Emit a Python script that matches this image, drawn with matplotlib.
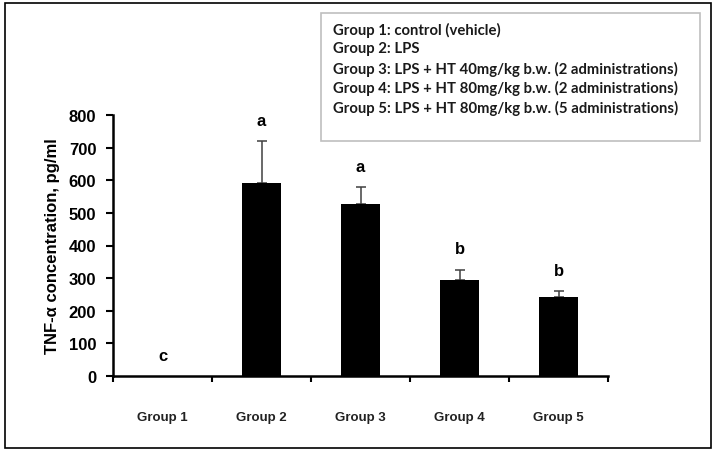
import numpy as np
import matplotlib.pyplot as plt
from matplotlib.patches import Rectangle

# data
groups = ['Group 1', 'Group 2', 'Group 3', 'Group 4', 'Group 5']
tnf_mean = [0, 592, 527, 295, 241]
tnf_err = [0, 128, 52, 31, 20]
letters = ['c', 'a', 'a', 'b', 'b']
legend_lines = [
    'Group 1: control (vehicle)',
    'Group 2: LPS',
    'Group 3: LPS + HT 40mg/kg b.w. (2 administrations)',
    'Group 4: LPS + HT 80mg/kg b.w. (2 administrations)',
    'Group 5: LPS + HT 80mg/kg b.w. (5 administrations)',
]

plt.rcParams['font.family'] = ['Liberation Sans', 'DejaVu Sans']

fig = plt.figure(figsize=(7.18, 4.56), dpi=100)
fig.patches.append(Rectangle((5 / 718, 1 - 449 / 456), 706 / 718, 445 / 456,
                             transform=fig.transFigure, fill=False,
                             edgecolor='black', linewidth=1.2))

ax = fig.add_axes([113 / 718, 1 - 377 / 456, 495 / 718, 261 / 456])
x = np.arange(1, len(groups) + 1)
ax.bar(x, tnf_mean, width=0.4, color='black', zorder=2)
ax.errorbar(x[1:], tnf_mean[1:], yerr=[np.zeros(len(x) - 1), tnf_err[1:]],
            fmt='none', ecolor='#404040', elinewidth=1.1, capsize=3.5,
            capthick=1.1, zorder=1)

for xi, m, e, t in zip(x, tnf_mean, tnf_err, letters):
    ax.annotate(t, (xi, m + e), xytext=(0, 15), textcoords='offset points',
                ha='center', va='center', fontsize=12, fontweight='bold')

ax.set_xlim(0.5, 5.5)
ax.set_ylim(0, 800)
ax.set_yticks(range(0, 801, 100))
ax.set_xticks(np.arange(0.5, 5.6, 1))
ax.set_xticklabels([])
ax.set_xticks(x, minor=True)
ax.set_xticklabels(groups, minor=True, fontsize=9.5, fontweight='bold',
                   color='#222222')
ax.tick_params(axis='x', which='major', direction='out', length=4, width=1.5)
ax.tick_params(axis='x', which='minor', length=0, pad=25)
ax.tick_params(axis='y', direction='out', length=5, width=1.5, pad=7,
               labelsize=12)
for lab in ax.get_yticklabels():
    lab.set_fontweight('bold')
for s in ['top', 'right']:
    ax.spines[s].set_visible(False)
for s in ['left', 'bottom']:
    ax.spines[s].set_linewidth(1.8)
ax.set_ylabel('TNF-α concentration, pg/ml', fontsize=12, fontweight='bold',
              labelpad=6)

# legend box
fig.patches.append(Rectangle((321 / 718, 1 - 142 / 456), 379 / 718, 128 / 456,
                             transform=fig.transFigure, facecolor='white',
                             edgecolor='#bfbfbf', linewidth=1.2, zorder=5))
for i, line in enumerate(legend_lines):
    fig.text(333 / 718, 1 - (30 + i * 19.5) / 456, line, fontsize=10.7,
             fontweight='bold', family=['Lato', 'DejaVu Sans'],
             color='#1a1a1a', va='center', ha='left', zorder=6)

fig.savefig('out.png', dpi=100)
